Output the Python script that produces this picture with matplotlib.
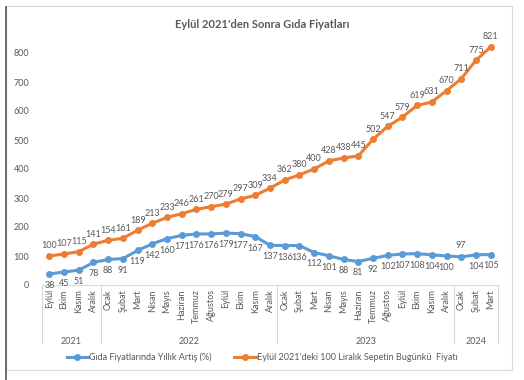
import matplotlib
matplotlib.use('Agg')
import matplotlib.pyplot as plt
from matplotlib.lines import Line2D
from matplotlib.patches import Rectangle

plt.rcParams['font.family'] = ['Lato', 'DejaVu Sans']

# Data
months = ['Eylül', 'Ekim', 'Kasım', 'Aralık',
          'Ocak', 'Şubat', 'Mart', 'Nisan', 'Mayıs', 'Haziran', 'Temmuz', 'Ağustos',
          'Eylül', 'Ekim', 'Kasım', 'Aralık',
          'Ocak', 'Şubat', 'Mart', 'Nisan', 'Mayıs', 'Haziran', 'Temmuz', 'Ağustos',
          'Eylül', 'Ekim', 'Kasım', 'Aralık',
          'Ocak', 'Şubat', 'Mart']
years = ['2021', '2022', '2023', '2024']
year_counts = [4, 12, 12, 3]

annual_increase = [38, 45, 51, 78, 88, 91, 119, 142, 160, 171, 176, 176, 179, 177, 167,
                   137, 136, 136, 112, 101, 88, 81, 92, 102, 107, 108, 104, 100, 97, 104, 105]
basket_price = [100, 107, 115, 141, 154, 161, 189, 213, 233, 246, 261, 270, 279, 297, 309,
                334, 362, 380, 400, 428, 438, 445, 502, 547, 579, 619, 631, 670, 711, 775, 821]

blue = '#5B9BD5'
orange = '#ED7D31'
txt = '#595959'

fig = plt.figure(figsize=(5.24, 3.8), dpi=100)
W, H = 524, 380
ax = fig.add_axes([42 / W, 1 - 285 / H, (498 - 42) / W, (285 - 24) / H])

x = list(range(len(months)))
ax.plot(x, annual_increase, color=blue, lw=2.2, marker='o', ms=4, label='Gıda Fiyatlarında Yıllık Artış (%)')
ax.plot(x, basket_price, color=orange, lw=2.2, marker='o', ms=4, label="Eylül 2021'deki 100 Liralık Sepetin Bugünkü  Fiyatı")

for i, v in enumerate(basket_price):
    ax.annotate(str(v), (i, v), xytext=(0, 4), textcoords='offset points',
                ha='center', va='bottom', fontsize=6.5, color=txt)
for i, v in enumerate(annual_increase):
    if v == 97 and i == 28:
        ax.annotate(str(v), (i, v), xytext=(0, 5), textcoords='offset points',
                    ha='center', va='bottom', fontsize=6.5, color=txt)
    else:
        ax.annotate(str(v), (i, v), xytext=(0, -5), textcoords='offset points',
                    ha='center', va='top', fontsize=6.5, color=txt)

ax.set_xlim(-0.5, len(months) - 0.5)
ax.set_ylim(0, 900)
ax.set_yticks(range(0, 900, 100))
ax.tick_params(axis='y', length=0, pad=9, labelsize=6.5, labelcolor=txt)
ax.set_xticks(x)
ax.set_xticklabels(months, rotation=90, fontsize=6.5, color=txt)
ax.tick_params(axis='x', length=0, pad=3)
for s in ['top', 'right', 'left']:
    ax.spines[s].set_visible(False)
ax.spines['bottom'].set_color('#d9d9d9')

# year level of the category axis
sep_bottom = (285 - 343) / (285 - 24)
year_y = (285 - 341) / (285 - 24)
start = -0.5
bounds = [start]
for yr, n in zip(years, year_counts):
    mid = start + n / 2
    ax.text(mid, year_y, yr, transform=ax.get_xaxis_transform(), ha='center', va='center',
            fontsize=6.5, color=txt)
    start += n
    bounds.append(start)
for b in bounds:
    ax.plot([b, b], [0, sep_bottom], transform=ax.get_xaxis_transform(), color='#d9d9d9',
            lw=0.8, clip_on=False)

fig.text(0.5, 1 - 25 / H, "Eylül 2021'den Sonra Gıda Fiyatları", ha='center', va='center',
         fontsize=8, fontweight='bold', color=txt)

fig.legend(loc='center', bbox_to_anchor=(0.5, 1 - 357 / H), ncol=2, frameon=False,
           fontsize=6.5, labelcolor=txt, handlelength=2.4, handletextpad=0.1, columnspacing=2.5)

# chart frame
fig.add_artist(Rectangle((6 / W, 1 - 370 / H), (512 - 6) / W, (370 - 6) / H,
                         transform=fig.transFigure, fill=False, edgecolor='#d9d9d9', lw=0.8))
fig.add_artist(Line2D([6 / W, 6 / W], [0, 1 - 7 / H], transform=fig.transFigure,
                      color='#555555', lw=1.2))

fig.savefig('out.png', dpi=100)
